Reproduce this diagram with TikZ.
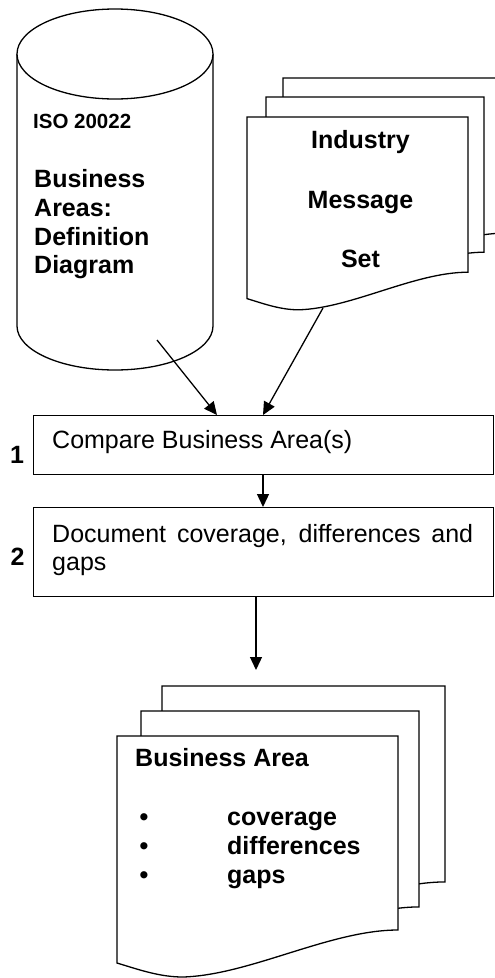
\documentclass[tikz,border=0pt]{standalone}
\usepackage{fontspec}
\setmainfont{Liberation Sans}
\usetikzlibrary{arrows.meta,calc}
\tikzset{
  outline/.style={draw=black,line width=1.3pt},
  sheet/.style={outline,fill=white,line join=miter},
  procbox/.style={outline,fill=white,inner sep=0pt,anchor=north west},
  flow/.style={line width=1.3pt,-{Triangle[length=13pt,width=12pt]}},
  bigbold/.style={font=\fontsize{25}{29}\selectfont\bfseries,inner sep=0pt},
  smallbold/.style={font=\fontsize{20.5}{24}\selectfont\bfseries,inner sep=0pt},
  plain/.style={font=\fontsize{25}{28}\selectfont,inner sep=0pt},
}
% one paper sheet with a wavy lower edge: left/top corner, x and y scale
\newcommand\docsheet[4]{%
  \begin{scope}[shift={(#1,#2)},xscale=#3,yscale=#4]
    \path[sheet] (0,0) -- (281,0) -- (281,194)
      .. controls (213,194) and (133,239) .. (66,241)
      .. controls (43,241) and (23,234) .. (0,227) -- cycle;
  \end{scope}}
\begin{document}
\begin{tikzpicture}[x=1pt,y=-1pt]
\useasboundingbox (0,0) rectangle (495,978);
\clip (0,0) rectangle (495,978);

% database cylinder
\path[sheet] (17,54) -- (17,326)
  .. controls (17,350.3) and (60.9,370) .. (115,370)
  .. controls (169.1,370) and (213,350.3) .. (213,326) -- (213,54);
\path[sheet] (115,54) ellipse [x radius=98, y radius=45];
\node[smallbold,anchor=base west] (iso) at (33,128) {ISO 20022};
\node[bigbold,anchor=base west] (cl1) at (34,187) {Business};
\node[bigbold,anchor=base west] (cl2) at (34,216) {Areas:};
\node[bigbold,anchor=base west] (cl3) at (34,245) {Definition};
\node[bigbold,anchor=base west] (cl4) at (34,273) {Diagram};

% industry message set: three stacked sheets
\docsheet{283}{78}{0.7865}{0.8}
\docsheet{266}{97}{0.776}{0.8}
\docsheet{247}{117}{0.7865}{0.8}
\node[bigbold,anchor=base] (ms1) at (360.5,148) {Industry};
\node[bigbold,anchor=base] (ms2) at (360.5,208) {Message};
\node[bigbold,anchor=base] (ms3) at (360.5,267) {Set};

% process steps
\node[procbox,minimum width=460pt,minimum height=59pt] (box1) at (33,415) {};
\node[procbox,minimum width=460pt,minimum height=89pt] (box2) at (33,507) {};
\node[plain,anchor=base west] (t1) at ([xshift=19pt,yshift=-33pt]box1.north west) {Compare Business Area(s)};
\node[plain,anchor=base west,text width=421pt,align=justify] (t2) at ([xshift=19pt,yshift=-35pt]box2.north west) {Document coverage, differences and gaps};
\node[bigbold,anchor=base] (n1) at (17,463) {1};
\node[bigbold,anchor=base] (n2) at (17.5,565) {2};

% business area output: three stacked sheets
\docsheet{162}{686}{1.007}{1.01}
\docsheet{141}{711}{0.989}{1.01}
\docsheet{117}{736}{1}{1}
\node[bigbold,anchor=base west] (ba) at (135,766) {Business Area};
\node[bigbold,anchor=base west] (b1) at (139.5,825) {•};
\node[bigbold,anchor=base west] (b2) at (139.5,854) {•};
\node[bigbold,anchor=base west] (b3) at (139.5,883) {•};
\node[bigbold,anchor=base west] (i1) at (227,825) {coverage};
\node[bigbold,anchor=base west] (i2) at (227,854) {differences};
\node[bigbold,anchor=base west] (i3) at (227,883) {gaps};

% connectors
\coordinate (cylOut) at (157,340);
\coordinate (msgOut) at (323,308);
\coordinate (stackIn) at (256,670);
\draw[flow] (cylOut) -- ($(box1.north west)+(184,0)$);
\draw[flow] (msgOut) -- ($(box1.north west)+(230,0)$);
\draw[flow] ($(box1.south west)+(230,0)$) -- ($(box2.north west)+(230,0)$);
\draw[flow] (box2.south -| stackIn) -- (stackIn);
\end{tikzpicture}
\end{document}
